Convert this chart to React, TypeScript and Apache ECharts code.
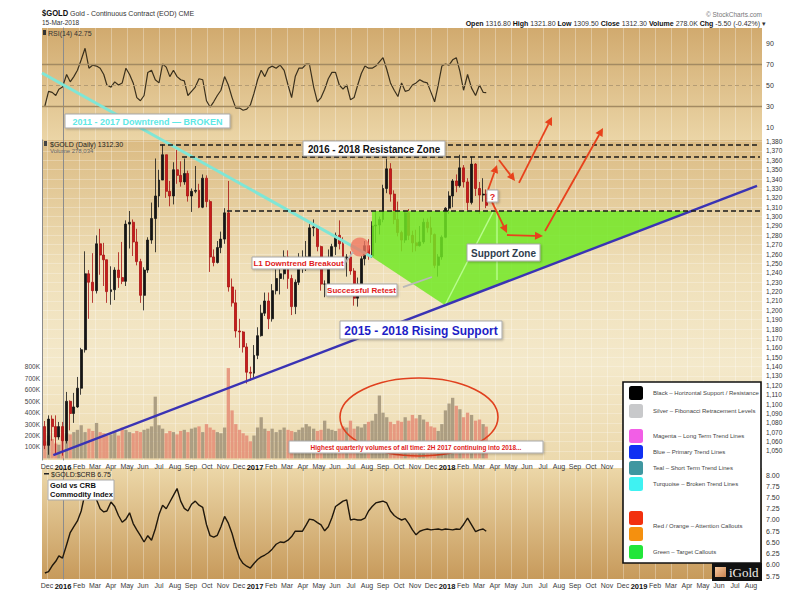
import React, { useEffect, useRef } from "react";
import * as echarts from "echarts";

// ---------------- DATA ----------------
const weekDates = (
  "2015-11-27 2015-12-04 2015-12-11 2015-12-18 2015-12-24 2015-12-31 " +
  "2016-01-08 2016-01-15 2016-01-22 2016-01-29 2016-02-05 2016-02-12 2016-02-19 2016-02-26 " +
  "2016-03-04 2016-03-11 2016-03-18 2016-03-24 2016-04-01 2016-04-08 2016-04-15 2016-04-22 2016-04-29 " +
  "2016-05-06 2016-05-13 2016-05-20 2016-05-27 2016-06-03 2016-06-10 2016-06-17 2016-06-24 " +
  "2016-07-01 2016-07-08 2016-07-15 2016-07-22 2016-07-29 2016-08-05 2016-08-12 2016-08-19 2016-08-26 " +
  "2016-09-02 2016-09-09 2016-09-16 2016-09-23 2016-09-30 2016-10-07 2016-10-14 2016-10-21 2016-10-28 " +
  "2016-11-04 2016-11-11 2016-11-18 2016-11-25 2016-12-02 2016-12-09 2016-12-16 2016-12-23 2016-12-30 " +
  "2017-01-06 2017-01-13 2017-01-20 2017-01-27 2017-02-03 2017-02-10 2017-02-17 2017-02-24 " +
  "2017-03-03 2017-03-10 2017-03-17 2017-03-24 2017-03-31 2017-04-07 2017-04-13 2017-04-21 2017-04-28 " +
  "2017-05-05 2017-05-12 2017-05-19 2017-05-26 2017-06-02 2017-06-09 2017-06-16 2017-06-23 2017-06-30 " +
  "2017-07-07 2017-07-14 2017-07-21 2017-07-28 2017-08-04 2017-08-11 2017-08-18 2017-08-25 " +
  "2017-09-01 2017-09-08 2017-09-15 2017-09-22 2017-09-29 2017-10-06 2017-10-13 2017-10-20 2017-10-27 " +
  "2017-11-03 2017-11-10 2017-11-17 2017-11-24 2017-12-01 2017-12-08 2017-12-15 2017-12-22 2017-12-29 " +
  "2018-01-05 2018-01-12 2018-01-19 2018-01-26 2018-02-02 2018-02-09 2018-02-16 2018-02-23 2018-03-02 2018-03-09 2018-03-15"
).split(" ");

const weekOpen = [
  1076, 1056, 1084, 1076, 1065, 1076,
  1061, 1103, 1090, 1097, 1117, 1158, 1239, 1230,
  1221, 1271, 1259, 1254, 1220, 1222, 1243, 1235, 1231,
  1292, 1294, 1273, 1252, 1216, 1243, 1275, 1298,
  1322, 1339, 1366, 1327, 1322, 1350, 1344, 1337, 1346,
  1322, 1327, 1328, 1310, 1341, 1316, 1257, 1251, 1267,
  1276, 1304, 1225, 1208, 1178, 1177, 1161, 1134, 1133,
  1152, 1173, 1197, 1210, 1191, 1221, 1234, 1239,
  1257, 1234, 1204, 1230, 1249, 1249, 1257, 1288, 1289,
  1268, 1228, 1228, 1256, 1268, 1280, 1271, 1256, 1257,
  1242, 1213, 1228, 1255, 1269, 1258, 1290, 1291,
  1297, 1330, 1351, 1324, 1297, 1283, 1275, 1304, 1280,
  1272, 1269, 1273, 1294, 1288, 1281, 1248, 1257, 1278,
  1309, 1322, 1338, 1333, 1352, 1337, 1315, 1356, 1330, 1323, 1324,
];
const weekClose = [
  1056, 1084, 1076, 1065, 1076, 1061,
  1103, 1090, 1097, 1117, 1158, 1239, 1230, 1221,
  1271, 1259, 1254, 1220, 1222, 1243, 1235, 1231, 1292,
  1294, 1273, 1252, 1216, 1243, 1275, 1298, 1322,
  1339, 1366, 1327, 1322, 1350, 1344, 1337, 1346, 1322,
  1327, 1328, 1310, 1341, 1316, 1257, 1251, 1267, 1276,
  1304, 1225, 1208, 1178, 1177, 1161, 1134, 1133, 1152,
  1173, 1197, 1210, 1191, 1221, 1234, 1239, 1257,
  1234, 1204, 1230, 1249, 1249, 1257, 1288, 1289, 1268,
  1228, 1228, 1256, 1268, 1280, 1271, 1256, 1257, 1242,
  1213, 1228, 1255, 1269, 1258, 1290, 1291, 1297,
  1330, 1351, 1324, 1297, 1283, 1275, 1304, 1280, 1272,
  1269, 1273, 1294, 1288, 1281, 1248, 1257, 1278, 1309,
  1322, 1338, 1333, 1352, 1337, 1315, 1356, 1330, 1323, 1324, 1312,
];
const weekHigh = [
  1082, 1088, 1088, 1088, 1081, 1081,
  1113, 1104, 1112, 1129, 1160, 1263, 1243, 1261,
  1280, 1287, 1272, 1254, 1247, 1246, 1262, 1273, 1296,
  1306, 1297, 1287, 1255, 1246, 1278, 1315, 1362,
  1350, 1377, 1366, 1338, 1358, 1371, 1359, 1362, 1349,
  1330, 1354, 1335, 1345, 1344, 1318, 1265, 1274, 1284,
  1309, 1338, 1234, 1222, 1191, 1178, 1165, 1140, 1163,
  1182, 1206, 1219, 1219, 1228, 1245, 1245, 1264,
  1264, 1238, 1233, 1261, 1264, 1274, 1292, 1297, 1289,
  1269, 1232, 1265, 1271, 1283, 1296, 1278, 1260, 1263,
  1245, 1235, 1258, 1274, 1276, 1295, 1306, 1300,
  1334, 1362, 1357, 1328, 1316, 1285, 1306, 1308, 1285,
  1286, 1290, 1298, 1298, 1300, 1282, 1260, 1280, 1310,
  1327, 1340, 1345, 1366, 1355, 1341, 1364, 1357, 1337, 1341, 1329,
];
const weekLow = [
  1052, 1046, 1061, 1047, 1062, 1045,
  1058, 1072, 1080, 1096, 1110, 1155, 1191, 1208,
  1218, 1238, 1226, 1208, 1206, 1211, 1224, 1228, 1226,
  1266, 1258, 1248, 1208, 1200, 1240, 1271, 1262,
  1310, 1339, 1320, 1311, 1313, 1335, 1332, 1334, 1316,
  1305, 1325, 1309, 1309, 1310, 1241, 1247, 1250, 1261,
  1271, 1220, 1204, 1171, 1160, 1155, 1122, 1125, 1128,
  1148, 1172, 1194, 1180, 1188, 1217, 1217, 1233,
  1223, 1195, 1196, 1227, 1240, 1242, 1250, 1279, 1263,
  1221, 1214, 1227, 1247, 1259, 1265, 1252, 1236, 1238,
  1205, 1204, 1226, 1248, 1254, 1256, 1272, 1281,
  1294, 1325, 1316, 1292, 1279, 1263, 1272, 1275, 1262,
  1263, 1268, 1271, 1283, 1272, 1245, 1236, 1254, 1277,
  1303, 1310, 1326, 1331, 1331, 1307, 1313, 1322, 1303, 1316, 1309,
];
// thousands of contracts
const weekVolumeK = [
  150, 200, 170, 130, 120, 200, 220, 210, 230, 250,
  290, 230, 260, 240, 310, 230, 220, 200, 210, 240,
  200, 270, 250, 230, 220, 240, 230, 250, 260, 280,
  540, 290, 260, 220, 240, 230, 210, 240, 250, 230,
  260, 270, 280, 230, 300, 270, 250, 230, 220, 270,
  790, 420, 300, 250, 220, 200, 150, 200, 270, 360,
  260, 240, 260, 230, 250, 270, 250, 240, 230, 250,
  270, 300, 280, 260, 240, 250, 330, 260, 250, 240,
  260, 280, 270, 330, 260, 280, 270, 300, 320, 330,
  390, 550, 400, 360, 320, 300, 330, 320, 360, 330,
  380, 350, 380, 340, 320, 280, 270, 240, 300, 420,
  480, 530, 460, 430, 360, 400, 380, 330, 340, 300,
  278,
];
const rsi14 = [
  30, 44, 43, 40, 46, 48, 60, 53, 58, 64,
  74, 85, 66, 69, 68, 66, 60, 50, 48, 53,
  50, 52, 66, 60, 52, 38, 35, 40, 62, 64,
  55, 52, 70, 67, 58, 64, 58, 55, 54, 40,
  44, 48, 56, 55, 35, 29, 34, 40, 45, 58,
  50, 38, 28, 28, 26, 27, 31, 42, 55, 64,
  58, 66, 68, 66, 69, 64, 50, 38, 58, 66,
  66, 70, 70, 48, 34, 38, 46, 56, 62, 62,
  50, 46, 50, 36, 38, 50, 61, 68, 66, 66,
  68, 72, 76, 65, 52, 45, 39, 52, 44, 45,
  50, 52, 55, 53, 52, 43, 34, 50, 68, 70,
  69, 74, 76, 63, 45, 60, 47, 40, 50, 43,
  42.75,
];
const goldCrbRatio = [
  5.82, 5.85, 5.98, 6.08, 6.2, 6.15, 6.45, 6.72, 6.85, 6.98,
  7.2, 7.6, 7.62, 7.52, 7.45, 7.25, 7.18, 7.2, 7.4, 7.3,
  7.1, 6.95, 7.02, 7.16, 6.92, 6.78, 6.65, 6.51, 6.65, 6.55,
  6.8, 7.12, 7.33, 7.25, 7.4, 7.55, 7.7, 7.42, 7.26, 7.2,
  7.35, 7.42, 7.33, 7.28, 6.9, 6.65, 6.62, 6.66, 6.85, 7.08,
  6.93, 6.7, 6.4, 6.15, 6.03, 5.97, 5.93, 6.03, 6.12, 6.18,
  6.22, 6.27, 6.35, 6.46, 6.51, 6.5, 6.55, 6.63, 6.75, 6.75,
  6.75, 6.89, 7.02, 7.0, 6.94, 6.89, 6.76, 6.85, 7.05, 7.3,
  7.36, 7.42, 7.45, 7.0, 7.02, 7.0, 7.0, 7.04, 7.2, 7.3,
  7.38, 7.4, 7.42, 7.38, 7.2, 7.1, 7.04, 7.0, 7.03, 6.92,
  6.78, 6.67, 6.75, 6.78, 6.8, 6.78, 6.79, 6.8, 6.78, 6.8,
  6.79, 6.78, 6.8, 6.79, 6.9, 7.04, 6.89, 6.74, 6.78, 6.8,
  6.75,
];

// tick labels (month index -1 = Dec 2015 ... 43 = Aug 2019)
const monthTickLabels = [
  "Dec", "2016", "Feb", "Mar", "Apr", "May", "Jun", "Jul", "Aug", "Sep", "Oct", "Nov", "Dec",
  "2017", "Feb", "Mar", "Apr", "May", "Jun", "Jul", "Aug", "Sep", "Oct", "Nov", "Dec",
  "2018", "Feb", "Mar", "Apr", "May", "Jun", "Jul", "Aug", "Sep", "Oct", "Nov", "Dec",
  "2019", "Feb", "Mar", "Apr", "May", "Jun", "Jul", "Aug",
];
const mainPanelLastLabelMonth = 34; // Nov 2018; later labels sit under the legend box
const rsiTicks = [10, 30, 50, 70, 90];
const priceTicks = [
  1050, 1060, 1070, 1080, 1090, 1100, 1110, 1120, 1130, 1140, 1150, 1160, 1170, 1180, 1190, 1200, 1210,
  1220, 1230, 1240, 1250, 1260, 1270, 1280, 1290, 1300, 1310, 1320, 1330, 1340, 1350, 1360, 1370, 1380,
];
const volumeTicksK = [100, 200, 300, 400, 500, 600, 700, 800];
const ratioTicks = [5.75, 6.0, 6.25, 6.5, 6.75, 7.0, 7.25, 7.5, 7.75, 8.0];

// annotations in data coordinates [month index, price]
const resistanceLevels = [1376.4, 1363.6, 1306];
const resistanceStartMonth = [6.06, 7.44, 10.25];
const downtrendLine = [[-1.3125, 1453.2], [19.31, 1256.9]];
const risingSupportLine = [[-0.606, 1045.7], [43.375, 1332.7]];
const supportZone = [[19.31, 1306], [39.28, 1306], [23.875, 1205.5], [19.31, 1256.9]];
const zoneInnerLines = [
  [[23.875, 1205.5], [26.875, 1305]],
  [[27.125, 1305], [27.125, 1232.4]],
];
const pointerLines = [
  [[17.625, 1250.5], [18.125, 1262.3]],
  [[21.25, 1224.9], [23.06, 1235.6]],
];
const breakoutCircle = [18.5625, 1267.6];
const calloutArrows = [
  [[26.5625, 1328.4], [27.125, 1355.1]],
  [[27.25, 1360.4], [28.25, 1338.0]],
  [[28.5, 1335.9], [30.5625, 1406.3]],
  [[26.8125, 1315.6], [27.75, 1282.5]],
  [[27.75, 1280.4], [30.0, 1279.3]],
  [[30.125, 1284.7], [33.75, 1394.5]],
];

const legendItems = [
  { color: "#000000", label: "Black – Horizontal Support / Resistance", y: 393 },
  { color: "#c8c9cb", label: "Silver – Fibonacci Retracement Levels", y: 411 },
  { color: "#f25ee6", label: "Magenta – Long Term Trend Lines", y: 436 },
  { color: "#1030f2", label: "Blue – Primary Trend Lines", y: 452 },
  { color: "#3f97a0", label: "Teal – Short Term Trend Lines", y: 468 },
  { color: "#3ff2f2", label: "Turquoise – Broken Trend Lines", y: 484 },
  { color: "#f2300e", label: "", y: 518 },
  { color: "#f5900e", label: "", y: 534 },
  { color: "#22e63a", label: "Green – Target Callouts", y: 552 },
];

// ---------------- HELPERS ----------------
const FONT = 'Arial, "Liberation Sans", Helvetica, sans-serif';
const X_MIN = -1.3125;
const X_MAX = 43.6875;

function monthIndex(d: string): number {
  const [y, m, day] = d.split("-").map(Number);
  const dim = new Date(y, m, 0).getDate();
  return (y - 2016) * 12 + (m - 1) + (day - 1) / dim;
}

function txt(x: number, y: number, text: string, size: number, fill: string, extra: any = {}) {
  return {
    type: "text",
    x,
    y,
    z: 120,
    silent: true,
    scaleX: extra.scaleX || 1,
    style: {
      text,
      fill,
      fontSize: size,
      fontFamily: FONT,
      fontWeight: extra.bold ? "bold" : "normal",
      align: extra.align || "left",
      textAlign: extra.align || "left",
      verticalAlign: "middle",
      textVerticalAlign: "middle",
      rich: extra.rich,
    },
  };
}

function boxLabel(x: number, y: number, w: number, h: number, text: string, color: string, size: number, scaleX = 1) {
  return {
    type: "group",
    z: 110,
    silent: true,
    children: [
      {
        type: "rect",
        z: 110,
        shape: { x, y, width: w, height: h },
        style: { fill: "#ffffff", stroke: "#a9a9a9", lineWidth: 1, shadowBlur: 2, shadowColor: "rgba(0,0,0,0.25)", shadowOffsetX: 1, shadowOffsetY: 1 },
      },
      {
        type: "text",
        z: 111,
        x: x + w / 2,
        y: y + h / 2 + 0.5,
        scaleX,
        style: {
          text,
          fill: color,
          fontSize: size,
          fontWeight: "bold",
          fontFamily: FONT,
          align: "center",
          textAlign: "center",
          verticalAlign: "middle",
          textVerticalAlign: "middle",
        },
      },
    ],
  };
}

function buildOption() {
  const xs = weekDates.map(monthIndex);
  const monthValues = monthTickLabels.map((_, i) => i - 1);
  const mainMonthValues = monthValues.filter((v) => v <= mainPanelLastLabelMonth);

  const candleData = xs.map((x, i) => [x, weekOpen[i], weekClose[i], weekLow[i], weekHigh[i]]);
  const volumeData = xs.map((x, i) => ({
    value: [x, weekVolumeK[i] * 1000],
    itemStyle: { color: weekClose[i] >= weekOpen[i] ? "rgba(160,146,120,0.85)" : "rgba(228,140,118,0.85)" },
  }));
  const rsiData = xs.map((x, i) => [x, rsi14[i]]);
  const ratioData = xs.map((x, i) => [x, goldCrbRatio[i]]);

  const monthFormatter = (v: number) => {
    const label = monthTickLabels[Math.round(v) + 1] || "";
    return /^\d{4}$/.test(label) ? "{b|" + label + "}" : label;
  };

  const xAxisFor = (gridIndex: number, labelValues: number[] | null) => ({
    type: "value",
    gridIndex,
    min: X_MIN,
    max: X_MAX,
    axisLine: { show: false },
    axisTick: { show: false, customValues: monthValues },
    axisLabel: labelValues
      ? {
          customValues: labelValues,
          formatter: monthFormatter,
          fontSize: 7,
          color: "#3a3a3a",
          fontFamily: FONT,
          margin: 3,
          hideOverlap: false,
          rich: { b: { fontSize: 7.5, fontWeight: "bold", color: "#111", fontFamily: FONT } },
        }
      : { show: false },
    splitLine: { show: true, lineStyle: { color: "rgba(255,255,255,0.3)", width: 1 } },
  });

  const grad = (stops: [number, string][]) =>
    new echarts.graphic.LinearGradient(0, 0, 0, 1, stops.map(([offset, color]) => ({ offset, color })));

  const annotationRender = (params: any, api: any) => {
    const c = (p: number[]) => api.coord(p);
    const children: any[] = [];
    children.push({
      type: "polygon",
      shape: { points: supportZone.map(c) },
      style: { fill: "rgba(112,232,36,0.84)" },
    });
    zoneInnerLines.forEach((seg) => {
      const a = c(seg[0]);
      const b = c(seg[1]);
      children.push({
        type: "line",
        shape: { x1: a[0], y1: a[1], x2: b[0], y2: b[1] },
        style: { stroke: "rgba(190,255,150,0.9)", lineWidth: 1.4 },
      });
    });
    {
      const a = c(downtrendLine[0]);
      const b = c(downtrendLine[1]);
      children.push({
        type: "line",
        shape: { x1: a[0], y1: a[1], x2: b[0], y2: b[1] },
        style: { stroke: "#7fe6d6", lineWidth: 3 },
      });
    }
    {
      const a = c(risingSupportLine[0]);
      const b = c(risingSupportLine[1]);
      children.push({
        type: "line",
        shape: { x1: a[0], y1: a[1], x2: b[0], y2: b[1] },
        style: { stroke: "#3a33b4", lineWidth: 2.4 },
      });
    }
    resistanceLevels.forEach((lvl, i) => {
      const a = c([resistanceStartMonth[i], lvl]);
      const b = c([X_MAX, lvl]);
      children.push({
        type: "line",
        shape: { x1: a[0], y1: a[1], x2: b[0] - 2, y2: b[1] },
        style: { stroke: "#1a1a1a", lineWidth: 1.6, lineDash: [5, 3] },
      });
    });
    {
      const p = c(breakoutCircle);
      children.push({
        type: "circle",
        shape: { cx: p[0], cy: p[1], r: 9.5 },
        style: { fill: "rgba(240,118,96,0.78)" },
      });
    }
    pointerLines.forEach((seg) => {
      const a = c(seg[0]);
      const b = c(seg[1]);
      children.push({
        type: "line",
        shape: { x1: a[0], y1: a[1], x2: b[0], y2: b[1] },
        style: { stroke: "#b8b8b8", lineWidth: 1.8 },
      });
    });
    calloutArrows.forEach((seg) => {
      const a = c(seg[0]);
      const b = c(seg[1]);
      const dx = b[0] - a[0];
      const dy = b[1] - a[1];
      const len = Math.sqrt(dx * dx + dy * dy) || 1;
      const ux = dx / len;
      const uy = dy / len;
      const L = 8;
      const W = 4;
      const bx = b[0] - ux * L;
      const by = b[1] - uy * L;
      children.push({
        type: "line",
        shape: { x1: a[0], y1: a[1], x2: bx, y2: by },
        style: { stroke: "#e8421c", lineWidth: 1.8 },
      });
      children.push({
        type: "polygon",
        shape: {
          points: [
            [b[0], b[1]],
            [bx - uy * W, by + ux * W],
            [bx + uy * W, by - ux * W],
          ],
        },
        style: { fill: "#e8421c" },
      });
    });
    return { type: "group", children };
  };

  const graphics: any[] = [];
  // header
  graphics.push(txt(42, 13, "$GOLD", 9.5, "#111", { bold: true, scaleX: 0.8 }));
  graphics.push(txt(70, 13, "Gold - Continuous Contract (EOD) CME", 7, "#333"));
  graphics.push(txt(42, 22, "15-Mar-2018", 6.5, "#333"));
  graphics.push(txt(762, 14, "© StockCharts.com", 6.5, "#777", { align: "right" }));
  graphics.push(
    txt(
      766,
      23,
      "{b|Open} 1316.80 {b|High} 1321.80 {b|Low} 1309.50 {b|Close} 1312.30 {b|Volume} 278.0K {b|Chg} -5.50 (-0.42%) ▾",
      7,
      "#333",
      { align: "right", rich: { b: { fontWeight: "bold", fontSize: 7, fill: "#111", fontFamily: FONT } } }
    )
  );
  // panel labels
  graphics.push({ type: "rect", z: 120, shape: { x: 43, y: 30, width: 3, height: 5 }, style: { fill: "#333" } });
  graphics.push(txt(48, 33, "RSI(14) 42.75", 7, "#333"));
  graphics.push({ type: "rect", z: 120, shape: { x: 44, y: 141, width: 3, height: 5 }, style: { fill: "#444" } });
  graphics.push(txt(50, 144, "$GOLD (Daily) 1312.30", 7, "#222"));
  graphics.push(txt(50, 151, "Volume 278,034", 6, "#666"));
  graphics.push({ type: "rect", z: 120, shape: { x: 44, y: 473, width: 5, height: 1.5 }, style: { fill: "#222" } });
  graphics.push(txt(51, 474, "$GOLD:$CRB 6.75", 7, "#222"));

  // volume ellipse
  graphics.push({
    type: "ellipse",
    z: 105,
    silent: true,
    shape: { cx: 419, cy: 417, rx: 79, ry: 39 },
    style: { fill: "none", stroke: "#e0401e", lineWidth: 1.6 },
  });

  // callout boxes
  graphics.push(boxLabel(65, 114, 165, 14, "2011 - 2017 Downtrend — BROKEN", "#5fe8e6", 9));
  graphics.push(boxLabel(303, 141, 142, 15, "2016 - 2018 Resistance Zone", "#111", 10.5, 0.93));
  graphics.push(boxLabel(252, 257, 93, 12, "L1 Downtrend Breakout", "#e01a1a", 8));
  graphics.push(boxLabel(326, 284, 71, 12, "Successful Retest", "#e01a1a", 8));
  graphics.push(boxLabel(340, 321, 162, 18, "2015 - 2018 Rising Support", "#1d1dc6", 12));
  graphics.push(boxLabel(467, 244, 73, 17, "Support Zone", "#2f3e4e", 10));
  graphics.push(boxLabel(487, 190, 11, 12, "?", "#e01a1a", 9));
  graphics.push(boxLabel(289, 441, 254, 12, "Highest quarterly volumes of all time: 2H 2017 continuing into 2018...", "#e01a1a", 7.5, 0.86));
  // Gold vs CRB box
  graphics.push({
    type: "rect",
    z: 110,
    shape: { x: 48, y: 480, width: 66, height: 20 },
    style: { fill: "#fff", stroke: "#a9a9a9", lineWidth: 1 },
  });
  graphics.push(txt(50, 485.5, "Gold vs CRB", 7.5, "#111", { bold: true }));
  graphics.push(txt(50, 494.5, "Commodity Index", 7.5, "#111", { bold: true }));

  // legend box
  graphics.push({
    type: "rect",
    z: 115,
    shape: { x: 623, y: 382, width: 138, height: 181 },
    style: { fill: "#ffffff", stroke: "#111", lineWidth: 1.6 },
  });
  legendItems.forEach((it) => {
    graphics.push({
      type: "rect",
      z: 116,
      shape: { x: 629, y: it.y - 7, width: 14, height: 14, r: 2.5 },
      style: { fill: it.color },
    });
    if (it.label) graphics.push(txt(653, it.y, it.label, 6, "#444"));
  });
  graphics.push(txt(653, 526, "Red / Orange – Attention Callouts", 6, "#444"));

  // iGold logo
  graphics.push({ type: "rect", z: 116, shape: { x: 712, y: 563, width: 50, height: 18 }, style: { fill: "#111" } });
  graphics.push({
    type: "rect",
    z: 117,
    shape: { x: 715, y: 567, width: 11, height: 10 },
    style: { fill: new echarts.graphic.LinearGradient(0, 0, 1, 1, [{ offset: 0, color: "#f6c9a0" }, { offset: 1, color: "#c9824e" }]) },
  });
  graphics.push({
    type: "text",
    z: 117,
    x: 729,
    y: 572.5,
    style: {
      text: "iGold",
      fill: "#f3f0ea",
      fontSize: 13,
      fontFamily: '"Liberation Serif", "DejaVu Serif", serif',
      align: "left",
      textAlign: "left",
      verticalAlign: "middle",
      textVerticalAlign: "middle",
    },
  });

  return {
    animation: false,
    backgroundColor: "#ffffff",
    textStyle: { fontFamily: FONT },
    grid: [
      {
        left: 42, right: 43, top: 28, height: 112, show: true, borderWidth: 0,
        backgroundColor: grad([[0, "#d1aa6e"], [1, "#ebd5a6"]]),
      },
      {
        left: 42, right: 43, top: 140, height: 320, show: true, borderWidth: 0,
        backgroundColor: grad([[0, "#dbbb83"], [0.4, "#efdfb8"], [0.7, "#f4e9cb"], [1, "#ecd9ad"]]),
      },
      {
        left: 42, right: 43, top: 468, height: 111, show: true, borderWidth: 0,
        backgroundColor: grad([[0, "#ecd7a8"], [1, "#c79a5b"]]),
      },
    ],
    xAxis: [xAxisFor(0, null), xAxisFor(1, mainMonthValues), xAxisFor(2, monthValues)],
    yAxis: [
      {
        type: "value", gridIndex: 0, position: "right", min: -2.38, max: 104.29,
        axisLine: { show: true, lineStyle: { color: "#8c8c8c", width: 1 } },
        axisTick: { show: false },
        splitLine: { show: false },
        axisLabel: { customValues: rsiTicks, fontSize: 7, color: "#333", margin: 4, fontFamily: FONT },
      },
      {
        type: "value", gridIndex: 1, position: "right", min: 1040.4, max: 1381.73,
        axisLine: { show: true, lineStyle: { color: "#8c8c8c", width: 1 } },
        axisTick: { show: false, customValues: priceTicks },
        splitLine: { show: true, lineStyle: { color: "rgba(255,255,255,0.26)", width: 1 } },
        axisLabel: { customValues: priceTicks, fontSize: 6.5, color: "#333", margin: 4, fontFamily: FONT },
      },
      {
        type: "value", gridIndex: 1, position: "left", min: -14000, max: 2785000,
        axisLine: { show: true, lineStyle: { color: "#8c8c8c", width: 1 } },
        axisTick: { show: false },
        splitLine: { show: false },
        axisLabel: {
          customValues: volumeTicksK.map((v) => v * 1000),
          formatter: (v: number) => Math.round(v / 1000) + "K",
          fontSize: 6.5, color: "#444", margin: 2, fontFamily: FONT,
        },
      },
      {
        type: "value", gridIndex: 2, position: "right", min: 5.686, max: 8.158,
        axisLine: { show: true, lineStyle: { color: "#8c8c8c", width: 1 } },
        axisTick: { show: false },
        splitLine: { show: false },
        axisLabel: {
          customValues: ratioTicks,
          formatter: (v: number) => v.toFixed(2),
          fontSize: 7, color: "#333", margin: 4, fontFamily: FONT,
        },
      },
    ],
    series: [
      {
        name: "RSI(14)",
        type: "line",
        xAxisIndex: 0,
        yAxisIndex: 0,
        data: rsiData,
        showSymbol: false,
        silent: true,
        lineStyle: { color: "#3a301d", width: 1.2 },
        markLine: {
          silent: true,
          symbol: ["none", "none"],
          label: { show: false },
          data: [
            { yAxis: 70, lineStyle: { color: "#a38a62", width: 1.4, type: "solid" } },
            { yAxis: 30, lineStyle: { color: "#a38a62", width: 1.4, type: "solid" } },
            { yAxis: 50, lineStyle: { color: "#b49c74", width: 1, type: [4, 3] } },
          ],
        },
      },
      {
        name: "Volume",
        type: "bar",
        xAxisIndex: 1,
        yAxisIndex: 2,
        barWidth: 3.3,
        silent: true,
        data: volumeData,
      },
      {
        name: "$GOLD",
        type: "candlestick",
        xAxisIndex: 1,
        yAxisIndex: 1,
        barWidth: 2.4,
        silent: true,
        data: candleData,
        itemStyle: {
          color: "#151515",
          color0: "#c81c1c",
          borderColor: "#151515",
          borderColor0: "#a81212",
          borderWidth: 0.8,
        },
      },
      {
        name: "annotations",
        type: "custom",
        xAxisIndex: 1,
        yAxisIndex: 1,
        clip: false,
        silent: true,
        data: [[0, 1300]],
        renderItem: annotationRender,
        z: 5,
      },
      {
        name: "$GOLD:$CRB",
        type: "line",
        xAxisIndex: 2,
        yAxisIndex: 3,
        data: ratioData,
        showSymbol: false,
        silent: true,
        lineStyle: { color: "#20180c", width: 1.4 },
      },
    ],
    graphic: graphics,
  };
}

export default function App() {
  const ref = useRef<HTMLDivElement>(null);
  useEffect(() => {
    if (!ref.current) return;
    const chart = echarts.init(ref.current, undefined, { renderer: "svg" });
    chart.setOption(buildOption() as any);
    return () => chart.dispose();
  }, []);
  return (
    <div
      ref={ref}
      style={{ position: "absolute", left: 0, top: 0, width: 805, height: 600, background: "#fff" }}
    />
  );
}
